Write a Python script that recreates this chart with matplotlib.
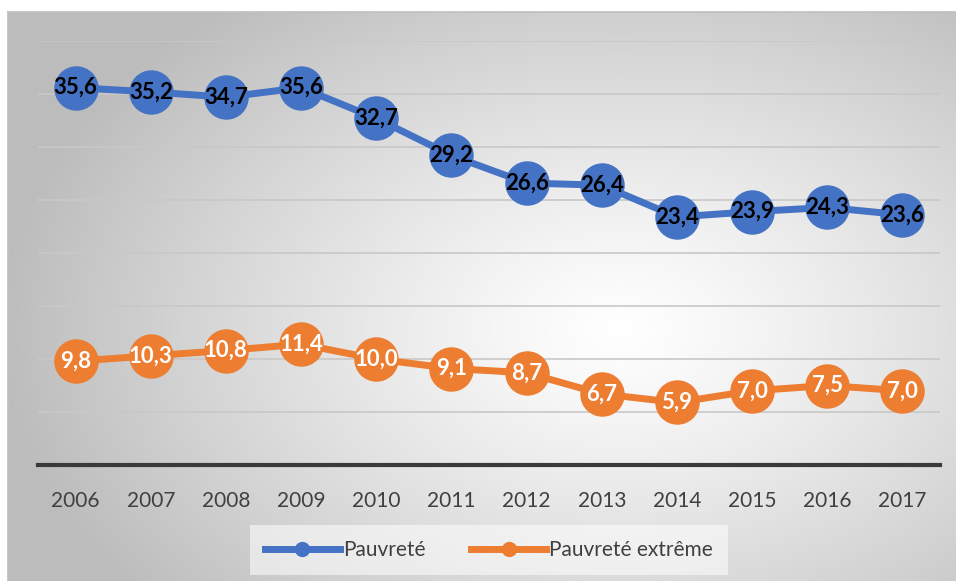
import numpy as np
import matplotlib
matplotlib.use("Agg")
import matplotlib.pyplot as plt
from matplotlib.lines import Line2D

years = ["2006", "2007", "2008", "2009", "2010", "2011", "2012", "2013", "2014", "2015", "2016", "2017"]
pauvrete = [35.6, 35.2, 34.7, 35.6, 32.7, 29.2, 26.6, 26.4, 23.4, 23.9, 24.3, 23.6]
extreme = [9.8, 10.3, 10.8, 11.4, 10.0, 9.1, 8.7, 6.7, 5.9, 7.0, 7.5, 7.0]
series_names = ["Pauvreté", "Pauvreté extrême"]

W, H = 956, 581
fig = plt.figure(figsize=(W / 100, H / 100), dpi=100)
fig.patch.set_facecolor("white")

FONT = "Lato"

# background gradient panel
bg = fig.add_axes([8 / W, 0, (W - 8) / W, (H - 12) / H], zorder=0)
nx, ny = 400, 240
xx, yy = np.meshgrid(np.linspace(8, W, nx), np.linspace(12, H, ny))
cx, cy = 620, 330
r = np.sqrt(((xx - cx) / 620) ** 2 + ((yy - cy) / 420) ** 2)
v = 1 - 0.26 * np.clip(r, 0, 1) ** 1.2
v = np.clip(v, 0, 1)
img = np.dstack([v, v, v])
bg.imshow(img, aspect="auto", extent=[0, 1, 0, 1], interpolation="bilinear")
bg.set_xlim(0, 1)
bg.set_ylim(0, 1)
bg.set_xticks([])
bg.set_yticks([])
for s in ["right", "bottom"]:
    bg.spines[s].set_visible(False)
for s in ["left", "top"]:
    bg.spines[s].set_color("#bfbfbf")
    bg.spines[s].set_linewidth(1.2)

ax = fig.add_axes([38 / W, (H - 465) / H, 902 / W, 424 / H], zorder=1)
ax.patch.set_alpha(0)
x = np.arange(len(years))
ax.set_xlim(-0.5, len(years) - 0.5)
ax.set_ylim(0, 40)
ax.set_yticks(np.arange(5, 41, 5))
ax.yaxis.grid(True, color="#c8c8c8", linewidth=1.2)
ax.set_axisbelow(True)
ax.tick_params(axis="y", left=False, labelleft=False)
ax.tick_params(axis="x", bottom=False, labelsize=15, colors="#404040", pad=15)
ax.set_xticks(x)
ax.set_xticklabels(years, family=FONT)
for s in ["left", "right", "top"]:
    ax.spines[s].set_visible(False)
ax.spines["bottom"].set_color("#3a3a3a")
ax.spines["bottom"].set_linewidth(3)

blue = "#4472C4"
orange = "#ED7D31"
ax.plot(x, pauvrete, color=blue, lw=5, marker="o", ms=31, zorder=3, solid_capstyle="round")
ax.plot(x, extreme, color=orange, lw=5, marker="o", ms=31, zorder=3, solid_capstyle="round")

def fmt(v):
    return f"{v:.1f}".replace(".", ",")

for xi, v in zip(x, pauvrete):
    ax.text(xi, v, fmt(v), ha="center", va="center", fontsize=16, fontweight="bold",
            color="black", family=FONT, zorder=4)
for xi, v in zip(x, extreme):
    ax.text(xi, v, fmt(v), ha="center", va="center", fontsize=16, fontweight="bold",
            color="white", family=FONT, zorder=4)

handles = [
    Line2D([0], [0], color=blue, lw=5, marker="o", ms=10),
    Line2D([0], [0], color=orange, lw=5, marker="o", ms=10),
]
leg = fig.legend(handles, series_names, loc="center", bbox_to_anchor=(489 / W, (H - 550) / H),
                 ncol=2, frameon=True, handlelength=3.6, columnspacing=2.2,
                 handletextpad=0.15, prop={"family": FONT, "size": 15})
leg.get_frame().set_facecolor("white")
leg.get_frame().set_alpha(0.55)
leg.get_frame().set_edgecolor("none")
leg.get_frame().set_boxstyle("square", pad=0.3)
for t in leg.get_texts():
    t.set_color("#404040")

fig.savefig("out.png", dpi=100)
